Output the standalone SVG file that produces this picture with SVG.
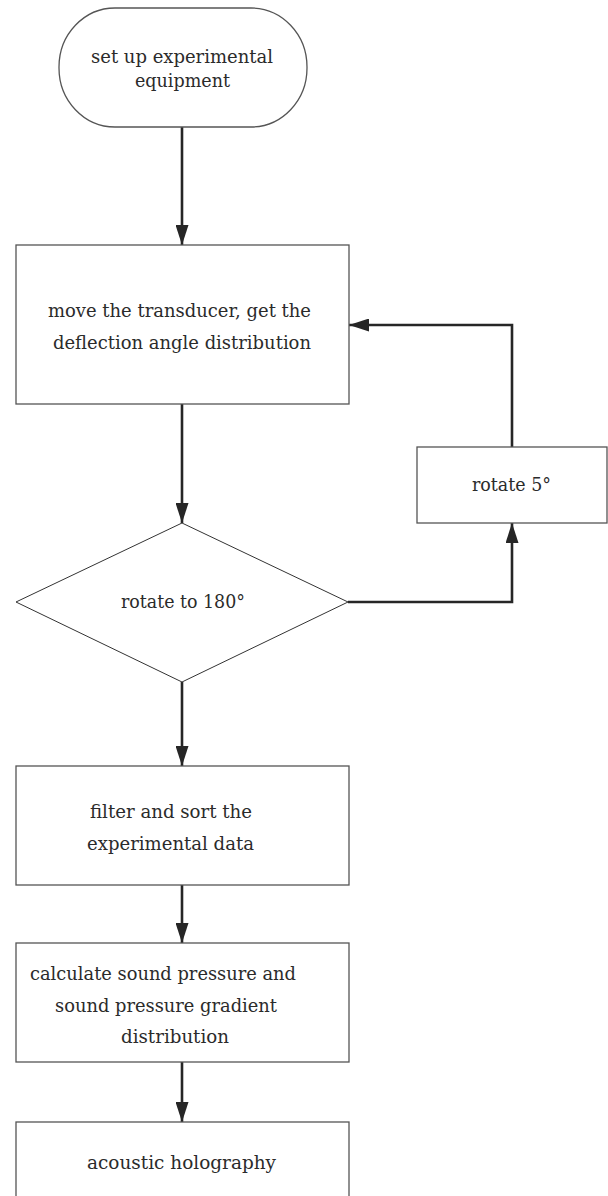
<svg xmlns="http://www.w3.org/2000/svg" width="608" height="1196" viewBox="0 0 608 1196">
  <style>
    .node { fill: #ffffff; stroke: #555555; stroke-width: 1.3; }
    .decision { fill: #ffffff; stroke: #333333; stroke-width: 1; }
    .label { font-family: "DejaVu Serif", "Liberation Serif", serif; font-size: 18px; fill: #2b2b2b; }
    .flow { fill: none; stroke: #262626; stroke-width: 2.6; }
  </style>
  <defs>
    <marker id="arrow" markerUnits="userSpaceOnUse" markerWidth="20" markerHeight="13" refX="20" refY="6.5" orient="auto">
      <path d="M0,0 L20,6.5 L0,13 Z" fill="#262626"/>
    </marker>
  </defs>

  <rect width="608" height="1196" fill="#ffffff"/>

  <!-- connectors -->
  <g id="connectors">
    <path class="flow" d="M182,127 L182,245" marker-end="url(#arrow)"/>
    <path class="flow" d="M182,404 L182,523" marker-end="url(#arrow)"/>
    <path class="flow" d="M348,602 L512,602 L512,523" marker-end="url(#arrow)"/>
    <path class="flow" d="M512,447 L512,325 L349,325" marker-end="url(#arrow)"/>
    <path class="flow" d="M182,682 L182,766" marker-end="url(#arrow)"/>
    <path class="flow" d="M182,885 L182,943" marker-end="url(#arrow)"/>
    <path class="flow" d="M182,1062 L182,1122" marker-end="url(#arrow)"/>
  </g>

  <!-- start -->
  <g id="start">
    <rect class="node" x="59" y="8" width="248" height="119" rx="56" ry="59"/>
    <text class="label" x="91" y="63" textLength="182" lengthAdjust="spacingAndGlyphs">set up experimental</text>
    <text class="label" x="135" y="87" textLength="95" lengthAdjust="spacingAndGlyphs">equipment</text>
  </g>

  <!-- measurement step -->
  <g id="measure">
    <rect class="node" x="16" y="245" width="333" height="159"/>
    <text class="label" x="48" y="317" textLength="263" lengthAdjust="spacingAndGlyphs">move the transducer, get the</text>
    <text class="label" x="53" y="349" textLength="258" lengthAdjust="spacingAndGlyphs">deflection angle distribution</text>
  </g>

  <!-- rotation step -->
  <g id="rotate-step">
    <rect class="node" x="417" y="447" width="190" height="76"/>
    <text class="label" x="472" y="491" textLength="79" lengthAdjust="spacingAndGlyphs">rotate 5°</text>
  </g>

  <!-- decision -->
  <g id="decision">
    <polygon class="decision" points="182,523 348,602 182,682 16,602"/>
    <text class="label" x="121" y="608" textLength="124" lengthAdjust="spacingAndGlyphs">rotate to 180°</text>
  </g>

  <!-- data processing -->
  <g id="filter">
    <rect class="node" x="16" y="766" width="333" height="119"/>
    <text class="label" x="90" y="818" textLength="162" lengthAdjust="spacingAndGlyphs">filter and sort the</text>
    <text class="label" x="87" y="850" textLength="167" lengthAdjust="spacingAndGlyphs">experimental data</text>
  </g>

  <g id="calculate">
    <rect class="node" x="16" y="943" width="333" height="119"/>
    <text class="label" x="30" y="980" textLength="266" lengthAdjust="spacingAndGlyphs">calculate sound pressure and</text>
    <text class="label" x="55" y="1012" textLength="222" lengthAdjust="spacingAndGlyphs">sound pressure gradient</text>
    <text class="label" x="121" y="1043" textLength="108" lengthAdjust="spacingAndGlyphs">distribution</text>
  </g>

  <g id="holography">
    <rect class="node" x="16" y="1122" width="333" height="90"/>
    <text class="label" x="87" y="1169" textLength="189" lengthAdjust="spacingAndGlyphs">acoustic holography</text>
  </g>
</svg>
